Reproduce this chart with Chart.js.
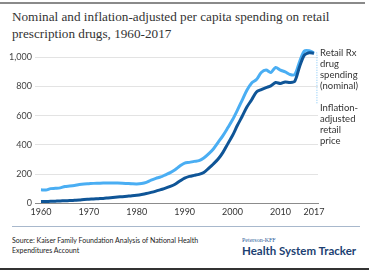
<!DOCTYPE html>
<html>
<head>
<meta charset="utf-8">
<script src="https://cdn.jsdelivr.net/npm/chart.js@4.4.0/dist/chart.umd.min.js"></script>
<style>
  html, body { margin: 0; padding: 0; background: #fff; }
  body { width: 369px; height: 273px; position: relative; overflow: hidden; font-family: Lato, sans-serif; }
  .topline { position: absolute; left: 0; top: 2px; width: 365px; height: 2px; background: #8a8a8a; }
  .title { position: absolute; left: 12px; top: 8px; width: 350px; font-family: "Liberation Serif", serif; font-size: 13.2px; line-height: 17px; color: #333; }
  #wrap { position: absolute; left: 0; top: 40px; width: 369px; height: 180px; }
  .side { position: absolute; left: 320px; font-size: 9.5px; line-height: 11px; color: #333; }
  .sep { position: absolute; left: 12px; top: 226px; width: 348px; height: 1px; background: #a8b8cc; }
  .source { position: absolute; left: 12px; top: 235px; font-size: 7px; line-height: 10px; color: #222; }
  .brand1 { position: absolute; left: 242px; top: 237px; font-family: "Liberation Serif", serif; font-size: 6px; color: #2f5d9c; }
  .brand2 { position: absolute; left: 242px; top: 244px; font-size: 11.5px; font-weight: bold; color: #1c3f72; }
  .botline { position: absolute; left: 0; top: 268px; width: 369px; height: 2px; background: #333; }
</style>
</head>
<body>
<div class="topline"></div>
<div class="title">Nominal and inflation-adjusted per capita spending on retail prescription drugs, 1960-2017</div>
<div id="wrap"><canvas id="c"></canvas></div>
<div class="side" style="top:47px">Retail Rx<br>drug<br>spending<br>(nominal)</div>
<div class="side" style="top:102px">Inflation-<br>adjusted<br>retail<br>price</div>
<div class="sep"></div>
<div class="source">Source: Kaiser Family Foundation Analysis of National Health<br>Expenditures Account</div>
<div class="brand1">Peterson-KFF</div>
<div class="brand2">Health System Tracker</div>
<div class="botline"></div>
<script>
// années 1960-2017
const years = [];
for (let y = 1960; y <= 2017; y++) years.push(y);

// dépenses nominales par habitant
const nominal = [
  11, 12, 13, 14, 15, 17, 18, 20, 22, 25,
  27, 29, 31, 33, 36, 39, 42, 45, 48, 51,
  55, 60, 66, 74, 83, 93, 103, 115, 130, 152,
  172, 184, 191, 198, 211, 239, 269, 303, 349, 407,
  464, 533, 595, 660, 710, 763, 779, 793, 805, 828,
  821, 832, 828, 837, 936, 1016, 1032, 1028
];

// prix ajusté de l'inflation
const adjusted = [
  92, 90, 100, 102, 105, 115, 118, 122, 128, 132,
  134, 136, 137, 138, 138, 138, 138, 137, 135, 133,
  132, 135, 143, 158, 170, 180, 195, 210, 230, 255,
  275, 280, 287, 292, 310, 338, 372, 418, 464, 517,
  572, 637, 706, 775, 825, 848, 897, 913, 897, 931,
  913, 901, 883, 883, 970, 1044, 1046, 1032
];

const xTicks = [1960, 1970, 1980, 1990, 2000, 2010, 2017];
const yTicks = [0, 200, 400, 600, 800, 1000];

const toPoints = arr => arr.map((v, i) => ({ x: years[i], y: v }));

// ligne pointillée vers l'étiquette
const leader = {
  id: 'leader',
  afterDatasetsDraw(chart) {
    const { ctx, scales } = chart;
    const x = scales.x.getPixelForValue(years[years.length - 1]) + 3;
    const y0 = scales.y.getPixelForValue(adjusted[adjusted.length - 1]);
    const y1 = y0 + 52;
    ctx.save();
    ctx.strokeStyle = '#7cc4f5';
    ctx.lineWidth = 1;
    ctx.setLineDash([1, 1.5]);
    ctx.beginPath();
    ctx.moveTo(x - 3, y0);
    ctx.lineTo(x, y0);
    ctx.lineTo(x, y1);
    ctx.stroke();
    ctx.restore();
  }
};

new Chart(document.getElementById('c'), {
  type: 'line',
  data: {
    datasets: [
      {
        label: 'Retail Rx drug spending (nominal)',
        data: toPoints(nominal),
        borderColor: '#0f5597',
        borderWidth: 3,
        pointRadius: 0,
        tension: 0.3
      },
      {
        label: 'Inflation-adjusted retail price',
        data: toPoints(adjusted),
        borderColor: '#4aaef3',
        borderWidth: 3,
        pointRadius: 0,
        tension: 0.3
      }
    ]
  },
  options: {
    responsive: true,
    maintainAspectRatio: false,
    animation: false,
    layout: { padding: { top: 8, right: 51, bottom: 0, left: 0 } },
    plugins: { legend: { display: false }, tooltip: { enabled: false } },
    scales: {
      x: {
        type: 'linear',
        min: 1958.75,
        max: 2017.85,
        afterBuildTicks: s => { s.ticks = xTicks.map(v => ({ value: v })); },
        grid: { display: false, drawTicks: false },
        border: { display: true, color: '#8c8c8c', width: 1 },
        ticks: { color: '#333', font: { family: 'Lato', size: 9 }, padding: 3, maxRotation: 0, autoSkip: false, callback: v => String(v) }
      },
      y: {
        min: 0,
        max: 1062,
        afterBuildTicks: s => { s.ticks = yTicks.map(v => ({ value: v })); },
        afterFit: s => { s.width = 35; },
        grid: { color: '#e3e3e3', drawTicks: false },
        border: { display: false },
        ticks: { color: '#444', font: { family: 'Lato', size: 9 }, padding: 3, callback: v => v.toLocaleString('en-US') }
      }
    }
  },
  plugins: [leader]
});
</script>
</body>
</html>
